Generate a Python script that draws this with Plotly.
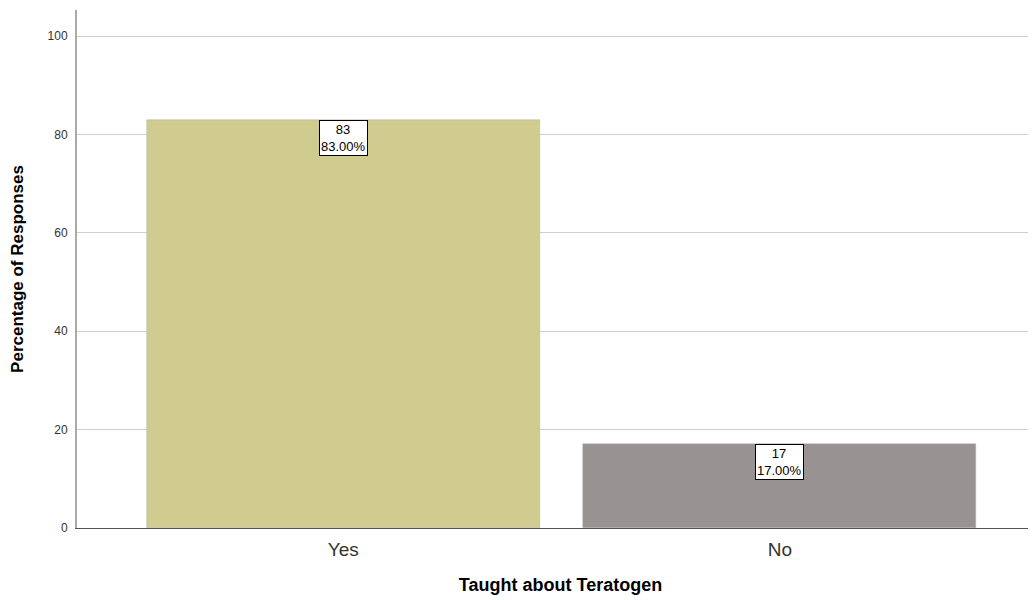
import plotly.graph_objects as go

categories = ["Yes", "No"]
counts = [83, 17]
percents = [83.00, 17.00]
bar_colors = ["#D0CB8E", "#989292"]
y_ticks = [0, 20, 40, 60, 80, 100]

fig = go.Figure()
fig.add_trace(go.Bar(
    x=categories, y=percents, width=0.9,
    marker=dict(color=bar_colors, line=dict(color="#b0b0b0", width=0.5)),
    hoverinfo="skip", showlegend=False,
))

for c, n, p in zip(categories, counts, percents):
    fig.add_annotation(
        x=c, y=p, xref="x", yref="y", yanchor="top", showarrow=False,
        text=f"{n}<br>{p:.2f}%", align="center",
        font=dict(family="Arial, Liberation Sans", size=13, color="black"),
        bgcolor="white", bordercolor="black", borderwidth=1, borderpad=1,
    )

fig.update_layout(
    width=1036, height=600,
    margin=dict(l=69, r=0, t=2, b=80),
    paper_bgcolor="white", plot_bgcolor="white",
    font=dict(family="Arial, Liberation Sans", color="#222"),
    bargap=0,
)
fig.update_xaxes(
    type="category", range=[-0.61, 1.605],
    showline=True, linecolor="#555", linewidth=1, ticks="",
    ticklabelstandoff=4,
    tickfont=dict(size=19, color="#333"),
    title=dict(text="<b>Taught about Teratogen</b>", font=dict(size=18, color="black"), standoff=19),
    showgrid=False,
)
fig.update_yaxes(
    range=[0, 105.3], tickvals=y_ticks,
    showline=True, linecolor="#aaa", linewidth=2, ticks="",
    ticklabelstandoff=5,
    showgrid=True, gridcolor="#cfcfcf", gridwidth=1,
    tickfont=dict(size=12, color="#333"),
    title=dict(text="<b>Percentage of Responses</b>", font=dict(size=17, color="black"), standoff=20),
    zeroline=False,
)

fig.write_html("out.html")
